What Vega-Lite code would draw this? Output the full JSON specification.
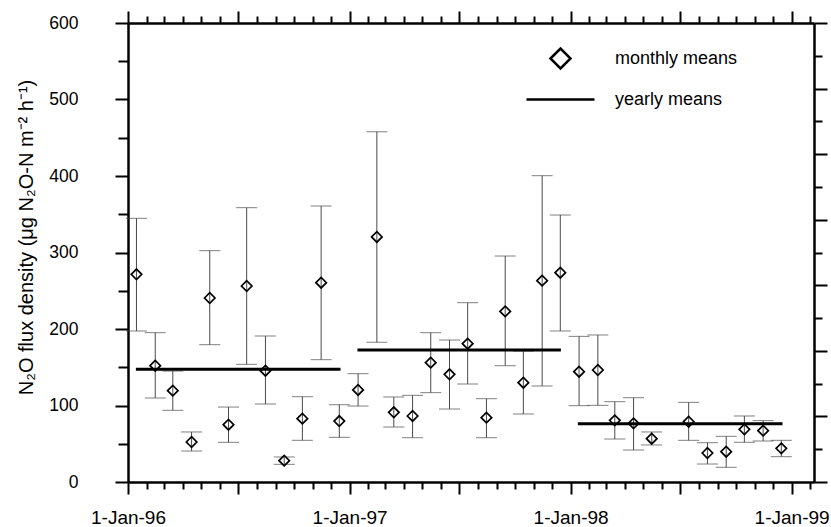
{
  "$schema": "https://vega.github.io/schema/vega-lite/v6.json",
  "width": 686,
  "height": 459,
  "autosize": {"type": "none"},
  "padding": {"left": 128, "top": 23, "right": 17, "bottom": 45},
  "background": "white",
  "config": {
    "view": {"stroke": null},
    "font": "Liberation Sans",
    "axis": {
      "labelFont": "Liberation Sans",
      "titleFont": "Liberation Sans",
      "labelColor": "black",
      "titleColor": "black",
      "tickColor": "black",
      "domainColor": "black",
      "domainWidth": 2.5,
      "tickWidth": 2,
      "grid": false
    },
    "legend": {"labelFont": "Liberation Sans", "labelColor": "black"}
  },
  "datasets": {
    "monthly": [
      {"date": "1996-01-15T00:00:00", "mean": 271.5, "lo": 197.4, "hi": 344.7},
      {"date": "1996-02-15T00:00:00", "mean": 152, "lo": 109.8, "hi": 195.2},
      {"date": "1996-03-15T00:00:00", "mean": 119.4, "lo": 93.7, "hi": 145},
      {"date": "1996-04-15T00:00:00", "mean": 52.3, "lo": 40.5, "hi": 65.4},
      {"date": "1996-05-15T00:00:00", "mean": 240.5, "lo": 179.5, "hi": 302.4},
      {"date": "1996-06-15T00:00:00", "mean": 74.9, "lo": 51.9, "hi": 98},
      {"date": "1996-07-15T00:00:00", "mean": 256.2, "lo": 153.8, "hi": 358.6},
      {"date": "1996-08-15T00:00:00", "mean": 145.5, "lo": 102, "hi": 190.8},
      {"date": "1996-09-15T00:00:00", "mean": 27.9, "lo": 23.1, "hi": 32.7},
      {"date": "1996-10-15T00:00:00", "mean": 82.8, "lo": 54.5, "hi": 111.5},
      {"date": "1996-11-15T00:00:00", "mean": 260.5, "lo": 159.9, "hi": 360.8},
      {"date": "1996-12-15T00:00:00", "mean": 79.7, "lo": 58.4, "hi": 101},
      {"date": "1997-01-15T00:00:00", "mean": 120.3, "lo": 99.3, "hi": 141.6},
      {"date": "1997-02-15T00:00:00", "mean": 320.3, "lo": 182.6, "hi": 458},
      {"date": "1997-03-15T00:00:00", "mean": 91.1, "lo": 71.9, "hi": 111.1},
      {"date": "1997-04-15T00:00:00", "mean": 86.3, "lo": 57.9, "hi": 113.3},
      {"date": "1997-05-15T00:00:00", "mean": 156, "lo": 116.8, "hi": 195.2},
      {"date": "1997-06-15T00:00:00", "mean": 140.8, "lo": 95.4, "hi": 185.6},
      {"date": "1997-07-15T00:00:00", "mean": 180.8, "lo": 128.1, "hi": 234.4},
      {"date": "1997-08-15T00:00:00", "mean": 84.1, "lo": 57.9, "hi": 108.9},
      {"date": "1997-09-15T00:00:00", "mean": 223, "lo": 152, "hi": 295.4},
      {"date": "1997-10-15T00:00:00", "mean": 129.8, "lo": 88.9, "hi": 171.2},
      {"date": "1997-11-15T00:00:00", "mean": 263.2, "lo": 125.5, "hi": 400.4},
      {"date": "1997-12-15T00:00:00", "mean": 273.6, "lo": 197.4, "hi": 349},
      {"date": "1998-01-15T00:00:00", "mean": 144.2, "lo": 99.8, "hi": 190.4},
      {"date": "1998-02-15T00:00:00", "mean": 146.4, "lo": 100.2, "hi": 192.2},
      {"date": "1998-03-15T00:00:00", "mean": 80.6, "lo": 56.2, "hi": 105},
      {"date": "1998-04-15T00:00:00", "mean": 76.7, "lo": 41.8, "hi": 110.2},
      {"date": "1998-05-15T00:00:00", "mean": 56.6, "lo": 48.4, "hi": 65.4},
      {"date": "1998-07-15T00:00:00", "mean": 78.8, "lo": 54.5, "hi": 104.1},
      {"date": "1998-08-15T00:00:00", "mean": 37.9, "lo": 23.5, "hi": 51.4},
      {"date": "1998-09-15T00:00:00", "mean": 39.6, "lo": 19.2, "hi": 59.7},
      {"date": "1998-10-15T00:00:00", "mean": 68.8, "lo": 51.9, "hi": 86.3},
      {"date": "1998-11-15T00:00:00", "mean": 67.1, "lo": 53.6, "hi": 80.2},
      {"date": "1998-12-15T00:00:00", "mean": 44, "lo": 33.1, "hi": 54.5}
    ],
    "yearly": [
      {"start": "1996-01-14T00:00:00", "end": "1996-12-17T00:00:00", "mean": 147.3},
      {"start": "1997-01-14T00:00:00", "end": "1997-12-16T00:00:00", "mean": 172.5},
      {"start": "1998-01-13T00:00:00", "end": "1998-12-17T00:00:00", "mean": 76.3}
    ]
  },
  "layer": [
    {
      "data": {"name": "monthly"},
      "mark": {"type": "rule", "color": "#4a4a4a", "strokeWidth": 1},
      "encoding": {
        "x": {
          "field": "date", "type": "temporal",
          "scale": {"domain": [{"year": 1996, "month": 1, "date": 1}, {"year": 1999, "month": 2, "date": 7}]},
          "axis": {
            "orient": "bottom",
            "title": null,
            "tickCount": {"interval": "month", "step": 1},
            "labelExpr": "month(datum.value) == 0 ? '1-Jan-' + timeFormat(datum.value, '%y') : ''",
            "tickSize": {"condition": {"test": "month(datum.value) % 6 == 0", "value": 12}, "value": 7},
            "labelPadding": 14,
            "labelFontSize": 19,
            "labelOverlap": false,
            "labelFlush": false,
            "labelBound": false
          }
        },
        "y": {
          "field": "lo", "type": "quantitative",
          "scale": {"domain": [0, 600], "nice": false, "zero": true},
          "axis": {
            "orient": "left",
            "values": [0, 50, 100, 150, 200, 250, 300, 350, 400, 450, 500, 550, 600],
            "labelExpr": "datum.value % 100 == 0 ? datum.label : ''",
            "tickSize": {"condition": {"test": "datum.value % 100 == 0", "value": 13}, "value": 10},
            "labelPadding": 37,
            "labelFontSize": 17.5,
            "title": "N₂O flux  density (μg N₂O-N m⁻² h⁻¹)",
            "titleFontSize": 20,
            "titleFontWeight": "normal",
            "titleX": -102,
            "titleY": 214,
            "titleBaseline": "middle"
          }
        },
        "y2": {"field": "hi"}
      }
    },
    {
      "data": {"name": "monthly"},
      "mark": {"type": "tick", "orient": "horizontal", "size": 21, "thickness": 1, "color": "#4a4a4a"},
      "encoding": {
        "x": {
          "field": "date", "type": "temporal",
          "axis": {
            "orient": "top",
            "title": null,
            "labels": false,
            "tickCount": {"interval": "month", "step": 1},
            "tickSize": {"condition": {"test": "month(datum.value) % 6 == 0", "value": 12}, "value": 7}
          }
        },
        "y": {
          "field": "lo", "type": "quantitative",
          "axis": {
            "orient": "right",
            "title": null,
            "labels": false,
            "values": [0, 42.857, 85.714, 128.571, 171.429, 214.286, 257.143, 300, 342.857, 385.714, 428.571, 471.429, 514.286, 557.143, 600],
            "tickSize": {"condition": {"test": "round(datum.value / 42.857142857) % 2 == 0", "value": 13}, "value": 8}
          }
        }
      }
    },
    {
      "data": {"name": "monthly"},
      "mark": {"type": "tick", "orient": "horizontal", "size": 21, "thickness": 1, "color": "#4a4a4a"},
      "encoding": {
        "x": {"field": "date", "type": "temporal", "axis": null},
        "y": {"field": "hi", "type": "quantitative", "axis": null}
      }
    },
    {
      "data": {"name": "yearly"},
      "mark": {"type": "rule", "color": "black", "strokeWidth": 3},
      "encoding": {
        "x": {"field": "start", "type": "temporal", "axis": null},
        "x2": {"field": "end"},
        "y": {"field": "mean", "type": "quantitative", "axis": null}
      }
    },
    {
      "data": {"name": "monthly"},
      "mark": {"type": "point", "filled": false, "size": 110, "strokeWidth": 1.7, "color": "black", "opacity": 1},
      "encoding": {
        "x": {"field": "date", "type": "temporal", "axis": null},
        "y": {"field": "mean", "type": "quantitative", "axis": null},
        "shape": {
          "datum": "monthly means",
          "type": "nominal",
          "scale": {"domain": ["monthly means", "yearly means"], "range": ["diamond", "M-3.4,0L3.4,0"]},
          "legend": {
            "title": null,
            "orient": "none",
            "legendX": 421,
            "legendY": 24,
            "symbolSize": 400,
            "symbolStrokeWidth": 2.5,
            "symbolStrokeColor": "black",
            "labelFontSize": 18,
            "labelOffset": 43,
            "rowPadding": 14,
            "labelLimit": 300
          }
        }
      }
    }
  ],
  "resolve": {"axis": {"x": "independent", "y": "independent"}}
}
